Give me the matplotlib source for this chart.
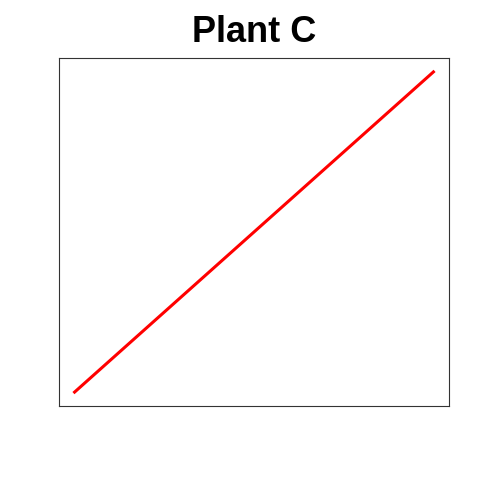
import matplotlib
matplotlib.use('Agg')
import matplotlib.pyplot as plt

# data
x = [0.0, 1.0]
y = [0.0, 1.0]
title = 'Plant C'

fig = plt.figure(figsize=(4.8, 4.8), dpi=100)
ax = fig.add_axes([59 / 480, 74 / 480, 390 / 480, 348 / 480])
ax.plot(x, y, color='red', linewidth=2.2, solid_capstyle='butt')
ax.set_xlim(-0.04, 1.04)
ax.set_ylim(-0.04, 1.04)
ax.set_xticks([])
ax.set_yticks([])
for s in ax.spines.values():
    s.set_linewidth(0.8)
    s.set_color('#333333')

fig.text(254 / 480, 1 - 32 / 480, title, ha='center', va='center',
         fontsize=26, fontweight='bold', family='Liberation Sans')

fig.savefig('out.png', dpi=100)
